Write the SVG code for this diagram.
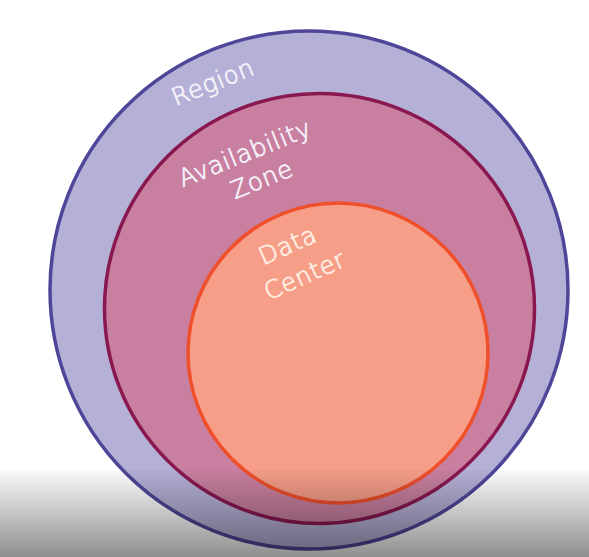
<svg xmlns="http://www.w3.org/2000/svg" width="589" height="557" viewBox="0 0 589 557">
  <defs>
    <linearGradient id="shade" x1="0" y1="470" x2="0" y2="557" gradientUnits="userSpaceOnUse">
      <stop offset="0" stop-color="#000" stop-opacity="0.02"/>
      <stop offset="1" stop-color="#000" stop-opacity="0.44"/>
    </linearGradient>
  </defs>
  <style>
    .lbl { font-family: "DejaVu Sans", "Liberation Sans", sans-serif; font-size: 24.5px; font-weight: 200; text-anchor: middle; letter-spacing: 0.6px; stroke-width: 0.7px; }
    .w { fill: #f6f4fc; stroke: #f6f4fc; }
    .c { fill: #fff0e4; stroke: #fff0e4; }
  </style>
  <rect x="0" y="0" width="589" height="557" fill="#ffffff"/>
  <g id="region">
    <circle cx="309" cy="290" r="259" fill="#b5b0d6" stroke="#4e4799" stroke-width="3.5"/>
    <text class="lbl w" x="216" y="90" transform="rotate(-22 216 90)">Region</text>
  </g>
  <g id="availability-zone">
    <circle cx="319.5" cy="308.5" r="215" fill="#c980a0" stroke="#8a1850" stroke-width="3.5"/>
    <text class="lbl w" x="248" y="161" transform="rotate(-22 248 161)">Availability</text>
    <text class="lbl w" x="265" y="187" transform="rotate(-22 265 187)">Zone</text>
  </g>
  <g id="data-center">
    <circle cx="338" cy="353" r="150" fill="#f69e88" stroke="#ef4f2b" stroke-width="3.5"/>
    <text class="lbl c" x="291" y="253" transform="rotate(-24 291 253)">Data</text>
    <text class="lbl c" x="308" y="283" transform="rotate(-24 308 283)">Center</text>
  </g>
  <g id="connectors"></g>
  <rect x="0" y="470" width="589" height="87" fill="url(#shade)"/>
</svg>
